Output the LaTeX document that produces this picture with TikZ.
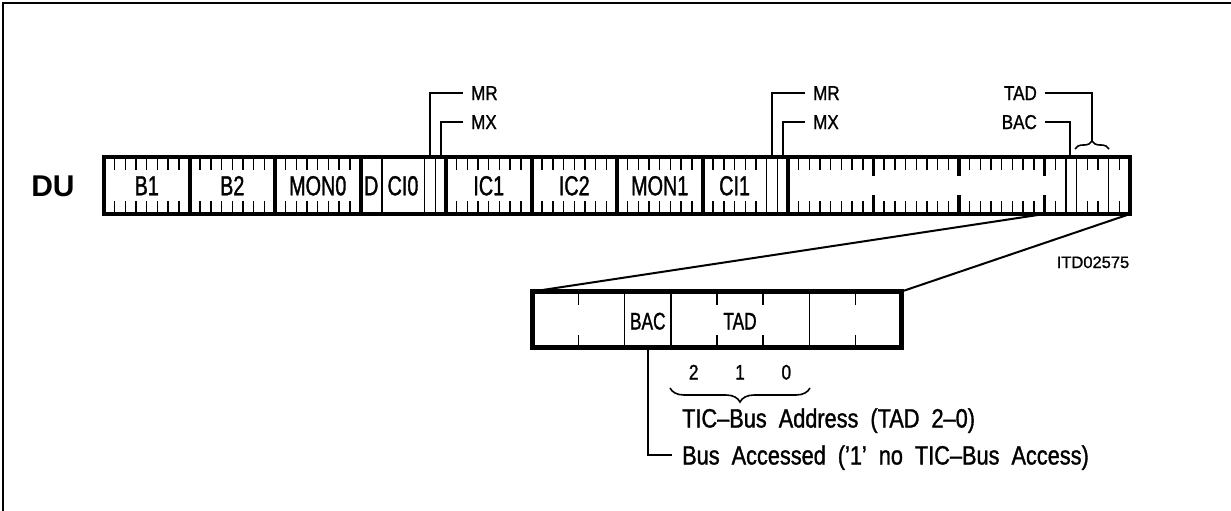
\documentclass[tikz,border=0pt]{standalone}
\usepackage{fontspec}
\setmainfont{Liberation Sans}
\newfontfamily\fa[FakeStretch=0.72,FakeBold=1.2]{Liberation Sans}
\newfontfamily\fb[FakeStretch=0.82,FakeBold=1.2]{Liberation Sans}
\newfontfamily\fc[FakeStretch=0.85,FakeBold=1.2]{Liberation Sans}
\newfontfamily\fd[FakeBold=1]{Liberation Sans}
\newcommand\notefont{\fb\fontsize{26.5}{26.5}\selectfont\spaceskip=12pt\relax}
\usetikzlibrary{decorations.pathreplacing}
\begin{document}
\begin{tikzpicture}[x=1pt,y=-1pt,
  frameline/.style={line width=2pt},
  heavy/.style={line width=4pt},
  hair/.style={line width=1.4pt},
  lead/.style={line width=2pt},
  field/.style={font=\fa\fontsize{27.5}{27.5}\selectfont, inner sep=0pt, text height=19.5pt, text depth=0pt},
  taglbl/.style={font=\fc\fontsize{20}{20}\selectfont, inner ysep=0pt, inner xsep=8pt, text height=14pt, text depth=0pt},
  bitlbl/.style={font=\fa\fontsize{24}{24}\selectfont, inner sep=0pt, text height=17pt, text depth=0pt},
  note/.style={font=\notefont, inner ysep=0pt, inner xsep=10pt, anchor=west, text height=19pt, text depth=0pt},
  digit/.style={font=\fb\fontsize{21}{21}\selectfont, inner sep=0pt, text height=15pt, text depth=0pt},
  brc/.style={decorate, line width=1.6pt}
]
\useasboundingbox (0,0) rectangle (1231,511);
% outer frame (partial)
\draw[frameline] (2.5,511) -- (2.5,3.5) -- (1231,3.5);

% label DU
\node[font=\bfseries\fontsize{30}{30}\selectfont, inner sep=0pt, text height=21.5pt, text depth=0pt] (DU) at (53,186) {DU};

% main bar
\node[draw, heavy, minimum width=1026pt, minimum height=57pt, inner sep=0pt, outer sep=0pt] (bar) at (617,185.5) {};

% byte separators (full height)
\foreach \k in {1,...,8} {
  \draw[heavy] (104+85.5*\k,157) -- (104+85.5*\k,214);
}
% byte boundary marks in the TIC channel
\foreach \k in {9,10,11} {
  \draw[line width=3.5pt] (104+85.5*\k,157) -- (104+85.5*\k,176);
  \draw[line width=3.5pt] (104+85.5*\k,195) -- (104+85.5*\k,214);
}
% bit ticks
\foreach \b in {0,1,2,4,5,6,8,9,10} {
  \foreach \j in {1,...,7} {
    \draw[hair] (104+85.5*\b+10.6875*\j,157) -- ++(0,13);
    \draw[hair] (104+85.5*\b+10.6875*\j,214) -- ++(0,-13);
  }
}
% byte 3 : D, CI0, MR, MX
\foreach \j in {2,6,7} {
  \draw[hair] (104+85.5*3+10.6875*\j,157) -- ++(0,57);
}
% byte 7 : CI1, MR, MX
\foreach \j in {1,...,5} {
  \draw[hair] (104+85.5*7+10.6875*\j,157) -- ++(0,13);
  \draw[hair] (104+85.5*7+10.6875*\j,214) -- ++(0,-13);
}
\foreach \j in {6,7} {
  \draw[hair] (104+85.5*7+10.6875*\j,157) -- ++(0,57);
}
% byte 11 : BAC, TAD
\foreach \j in {1,4,5,7} {
  \draw[hair] (104+85.5*11+10.6875*\j,157) -- ++(0,13);
  \draw[hair] (104+85.5*11+10.6875*\j,214) -- ++(0,-13);
}
\foreach \j in {2,3,6} {
  \draw[hair] (104+85.5*11+10.6875*\j,157) -- ++(0,57);
}

% field labels
\node[field] (B1) at (146.75,185.5) {B1};
\node[field] (B2) at (232.25,185.5) {B2};
\node[field] (MON0) at (317.75,185.5) {MON0};
\node[field] (D) at (371.2,185.5) {D};
\node[field] (CI0) at (403,185.5) {CI0};
\node[field] (IC1) at (488.75,185.5) {IC1};
\node[field] (IC2) at (574.25,185.5) {IC2};
\node[field] (MON1) at (659.75,185.5) {MON1};
\node[field] (CI1) at (734.6,185.5) {CI1};

% MR / MX leaders
\node[taglbl, anchor=west] (MR0) at (463,93) {MR};
\node[taglbl, anchor=west] (MX0) at (463,122) {MX};
\coordinate (mr0b) at (430,155);
\coordinate (mx0b) at (440.7,155);
\draw[lead] (MR0.west) -| (mr0b);
\draw[lead] (MX0.west) -| (mx0b);

\node[taglbl, anchor=west] (MR1) at (805,93) {MR};
\node[taglbl, anchor=west] (MX1) at (805,122) {MX};
\coordinate (mr1b) at (772,155);
\coordinate (mx1b) at (782.7,155);
\draw[lead] (MR1.west) -| (mr1b);
\draw[lead] (MX1.west) -| (mx1b);

% TAD / BAC leaders
\node[taglbl, anchor=east] (TADt) at (1045,93) {TAD};
\node[taglbl, anchor=east] (BACt) at (1045,122) {BAC};
\coordinate (bacb) at (1070,155);
\draw[lead] (BACt.east) -| (bacb);
\draw[brc, decoration={brace, amplitude=8pt}] (1075,149) -- (1109,149);
\coordinate (tadtip) at (1092,141);
\draw[lead] (TADt.east) -| (tadtip);

\node[font=\fd\fontsize{16.5}{16.5}\selectfont, inner sep=0pt, text height=12pt, text depth=0pt] (ITD) at (1093,262) {ITD02575};

% detail box
\node[draw, line width=4.5pt, minimum width=369pt, minimum height=56pt, inner sep=0pt, outer sep=0pt] (det) at (717,319.5) {};
\foreach \x in {624.75,670.9,809.25} {
  \draw[hair] (\x,291.5) -- (\x,347.5);
}
\foreach \x in {578.6,717,763.1,855.4} {
  \draw[hair] (\x,291.5) -- ++(0,13);
  \draw[hair] (\x,347.5) -- ++(0,-13);
}
\node[bitlbl] (BACd) at (647.8,321) {BAC};
\node[bitlbl] (TADd) at (740,321) {TAD};

% zoom lines
\coordinate (b11) at (1044.5,214);
\draw[lead] (b11) -- (det.north west);
\draw[lead] (bar.south east) -- (det.north east);

% bit numbers and brace
\node[digit] (n2) at (693.7,372) {2};
\node[digit] (n1) at (740,372) {1};
\node[digit] (n0) at (786.3,372) {0};
\draw[brc, decoration={brace, amplitude=14pt}] (810,388) -- (670,388);

\node[note] (tic) at (672,418) {TIC–Bus Address (TAD 2–0)};
\node[note] (bus) at (672,455) {Bus Accessed (’1’ no TIC–Bus Access)};
\coordinate (bacd) at (647.8,349);
\draw[lead] (bacd) |- (bus.west);
\end{tikzpicture}
\end{document}
